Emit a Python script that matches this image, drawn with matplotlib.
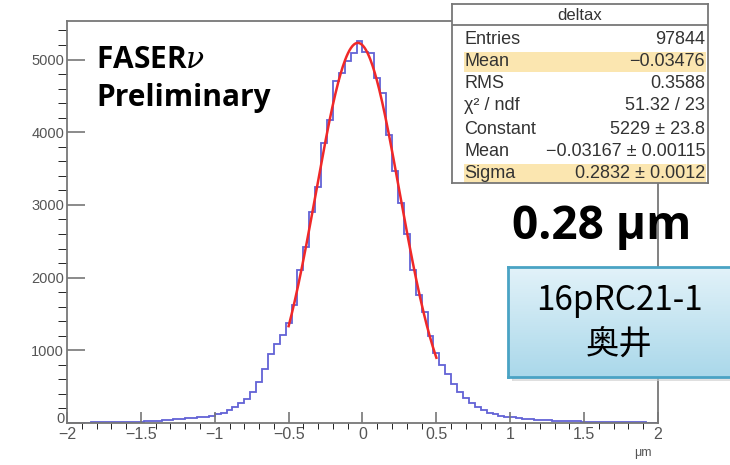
import numpy as np
import matplotlib.pyplot as plt
import matplotlib.transforms as mtrans
from matplotlib.colors import LinearSegmentedColormap
from matplotlib.patches import Rectangle

plt.rcParams['font.family'] = ['Liberation Sans', 'DejaVu Sans']
plt.rcParams['mathtext.fontset'] = 'dejavuserif'

# histogram of deltax, 100 bins from -2 to 2 um
x_lo, x_hi, n_bins = -2.0, 2.0, 100
counts = [
    4, 5, 5, 6, 7, 8, 9, 10, 11, 13, 15, 17, 20, 23, 27, 32, 37, 43, 50, 57,
    64, 72, 80, 88, 100,
    120, 140, 175, 215, 270, 330, 420, 560, 740, 950, 1080, 1210, 1380, 1620,
    2100, 2420, 2900, 3250, 3850, 4170, 4700, 4820, 4980, 5090, 5250,
    5110, 5090, 4740, 4540, 3960, 3460, 3030, 2600, 2100, 1760, 1530, 1190,
    960, 800, 680, 540, 430, 340, 270, 220, 180, 140, 120, 100, 88,
    76, 66, 58, 52, 46, 42, 38, 34, 30, 27, 24, 22, 20, 18, 16, 14, 13, 12,
    11, 10, 9, 8, 7, 6, 6,
]

# gaussian fit result
fit_const = 5229
fit_mean = -0.03167
fit_sigma = 0.2832
fit_range = (-0.5, 0.5)

xticks = [-2, -1.5, -1, -0.5, 0, 0.5, 1, 1.5, 2]
xtick_labels = ['\u22122', '\u22121.5', '\u22121', '\u22120.5', '0', '0.5', '1', '1.5', '2']
yticks = [0, 1000, 2000, 3000, 4000, 5000]

stat_labels = ['Entries', 'Mean', 'RMS', '\u03c7\u00b2 / ndf', 'Constant', 'Mean', 'Sigma']
stat_values = ['97844', '\u22120.03476', '0.3588', '51.32 / 23', '5229 \u00b1 23.8',
               '\u22120.03167 \u00b1 0.00115', '0.2832 \u00b1 0.0012']
stat_marked = [False, True, False, False, False, False, True]

W, H = 730, 465
fig = plt.figure(figsize=(W / 100, H / 100), dpi=100)

# main histogram axes
ax = fig.add_axes([67 / W, 1 - 423 / H, (658 - 67) / W, (423 - 21) / H])
edges = np.linspace(x_lo, x_hi, n_bins + 1)
ax.stairs(counts, edges, color='#6262d6', lw=1.3)

xf = np.linspace(fit_range[0], fit_range[1], 200)
yf = fit_const * np.exp(-0.5 * ((xf - fit_mean) / fit_sigma) ** 2)
ax.plot(xf, yf, color='#f02828', lw=1.8)

ax.set_xlim(x_lo, x_hi)
ax.set_ylim(0, 5530)
ax.set_xticks(xticks)
ax.set_xticklabels(xtick_labels)
ax.set_xticks(np.arange(-2, 2.01, 0.1), minor=True)
ax.set_yticks(yticks)
ax.set_yticks(np.arange(0, 5501, 200), minor=True)
for s in ax.spines.values():
    s.set_color('#777777')
    s.set_linewidth(1.3)
ax.tick_params(direction='in', colors='#777777', labelcolor='#555555', width=1.2)
ax.tick_params(axis='y', which='major', length=13, labelsize=10.5, pad=2)
ax.tick_params(axis='y', which='minor', length=6.5)
ax.tick_params(axis='x', which='major', length=8, labelsize=11.5, pad=3)
ax.tick_params(axis='x', which='minor', length=4)
ax.tick_params(top=False, right=False, which='both')
# the "0" on the y axis sits a bit higher, as in ROOT
ax.get_yticklabels()[0].set_transform(
    ax.get_yticklabels()[0].get_transform()
    + mtrans.ScaledTranslation(0, 6 / 100, fig.dpi_scale_trans))

fig.text(652 / W, 1 - 453 / H, '\u03bcm', fontsize=9, color='#555555',
         ha='right', va='center')

fig.text(96 / W, 1 - 60 / H, 'FASER$\\nu$', fontsize=21.5, fontweight='bold',
         family=['Open Sans', 'DejaVu Sans'], ha='left', va='center')
fig.text(96 / W, 1 - 98 / H, 'Preliminary', fontsize=21.5, fontweight='bold',
         family=['Open Sans', 'DejaVu Sans'], ha='left', va='center')

# stats box
sb = fig.add_axes([452 / W, 1 - 183 / H, (708 - 452) / W, (183 - 4) / H])
sb.set_xlim(0, 256)
sb.set_ylim(179, 0)
sb.set_xticks([])
sb.set_yticks([])
for s in sb.spines.values():
    s.set_color('#777777')
    s.set_linewidth(1.3)
sb.axhline(21, color='#777777', lw=1.3)
sb.text(128, 11, 'deltax', ha='center', va='center', fontsize=12, color='#333333')
row_y = [35, 58, 80, 102, 125, 148, 170]
for lab, val, mark, yy in zip(stat_labels, stat_values, stat_marked, row_y):
    if mark:
        sb.add_patch(Rectangle((12, yy - 10), 242, 20, color='#fbe6b0', lw=0))
    sb.text(12, yy, lab, ha='left', va='center', fontsize=13, color='#333333')
    sb.text(253, yy, val, ha='right', va='center', fontsize=13, color='#333333')

fig.text(602 / W, 1 - 226 / H, '0.28 \u03bcm', fontsize=33, fontweight='bold',
         family=['Open Sans', 'DejaVu Sans'], ha='center', va='center')

# blue label box
shadow = fig.add_axes([512 / W, 1 - 381 / H, 230 / W, 110 / H])
shadow.set_axis_off()
shadow.add_patch(Rectangle((0, 0), 1, 1, color='#cfcfcf', alpha=0.6,
                           transform=shadow.transAxes))
bx = fig.add_axes([508 / W, 1 - 377 / H, 230 / W, 110 / H])
grad = np.linspace(0, 1, 100).reshape(-1, 1)
bx.imshow(grad, aspect='auto', extent=[0, 1, 0, 1], origin='upper',
          cmap=LinearSegmentedColormap.from_list('bg', ['#e2f2f9', '#aad8ea']))
bx.set_xticks([])
bx.set_yticks([])
for s in bx.spines.values():
    s.set_color('#4aa3c4')
    s.set_linewidth(2)
bx.text(111 / 230, 0.7, '16pRC21-1', transform=bx.transAxes, fontsize=24,
        family=['Noto Sans CJK JP', 'DejaVu Sans'], ha='center', va='center')
bx.text(111 / 230, 0.3, '\u5965\u4e95', transform=bx.transAxes, fontsize=24,
        family=['Noto Sans CJK JP', 'DejaVu Sans'], ha='center', va='center')

fig.savefig('out.png', dpi=100)
